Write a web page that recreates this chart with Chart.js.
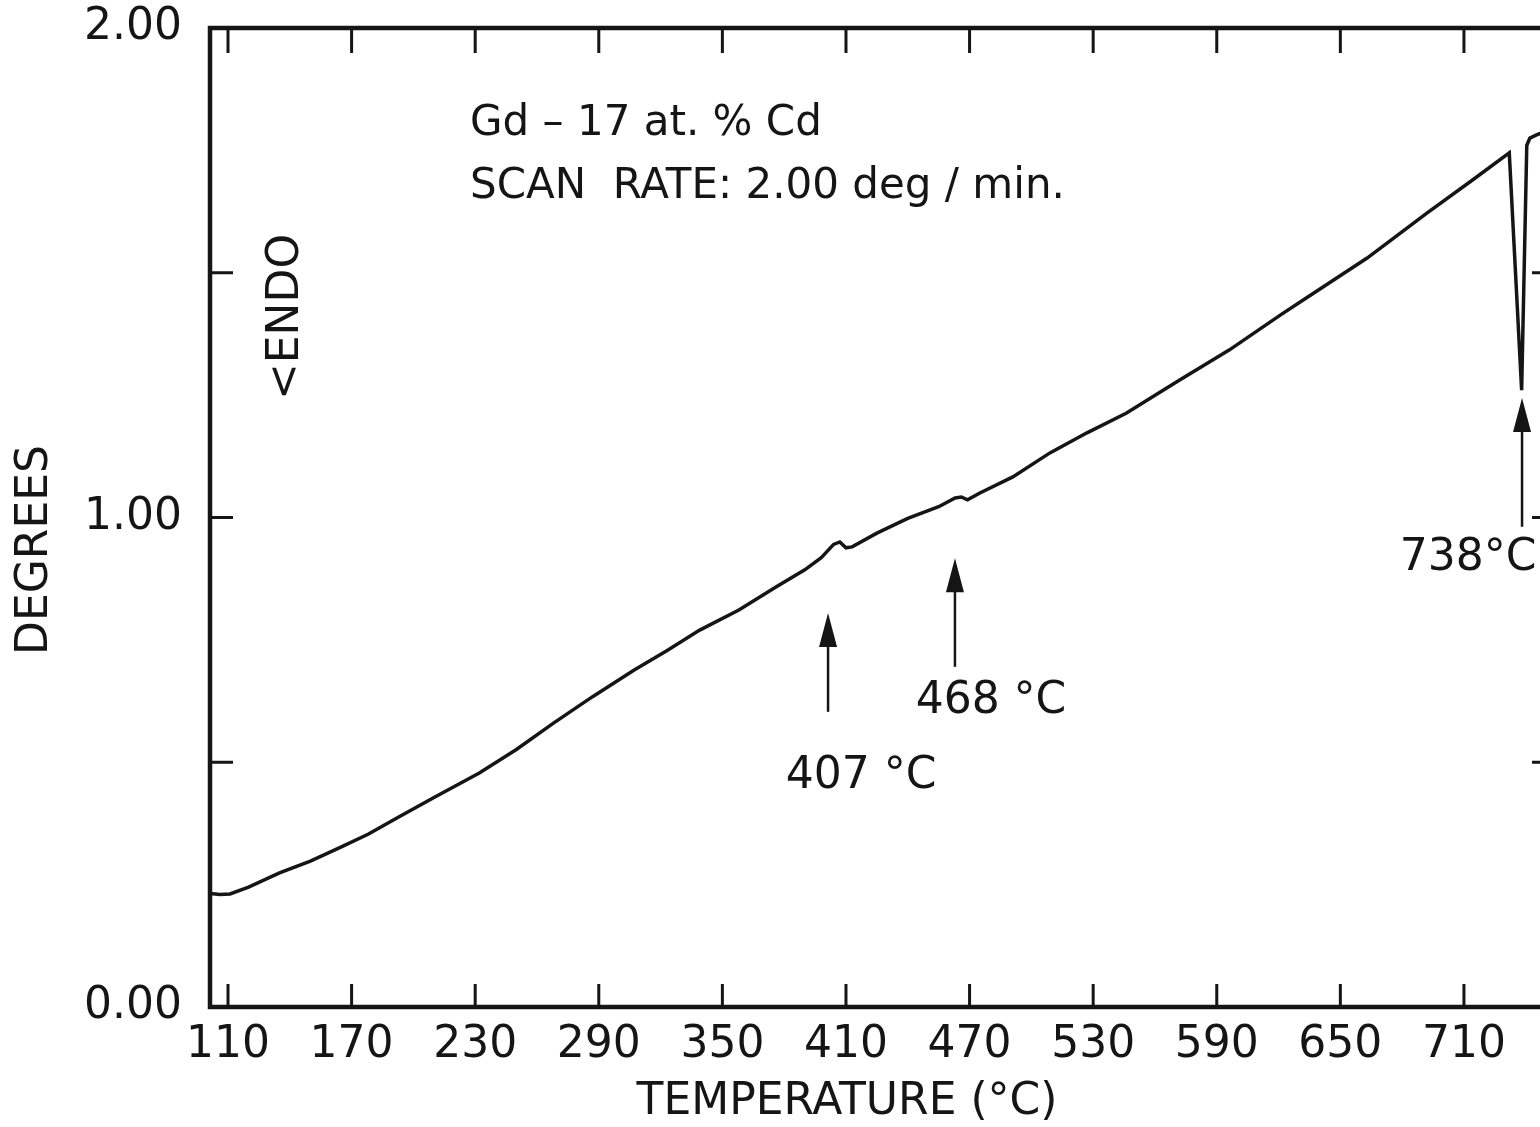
<!DOCTYPE html>
<html>
<head>
<meta charset="utf-8">
<title>DTA trace Gd-17 at.% Cd</title>
<script src="https://cdn.jsdelivr.net/npm/chart.js@4.4.0/dist/chart.umd.min.js"></script>
<style>
html, body { margin: 0; padding: 0; background: #fff; overflow: hidden; }
#wrap { width: 1600px; height: 1127px; }
</style>
</head>
<body>
<div id="wrap"><canvas id="dta-chart" width="1600" height="1127"></canvas></div>
<script>
// DTA TRACE DATA
const temperature = [101.5, 106, 111, 120, 135, 150, 164, 178, 192, 210, 232, 250, 268, 287, 307, 323, 339, 358, 376, 390, 398, 404, 407, 410, 413, 425, 440, 455, 463, 466, 469, 475, 491, 509, 527, 546, 572, 596, 621, 634, 663, 692, 714, 732, 738, 740.5, 742, 745, 750];
const degrees = [0.232, 0.230, 0.231, 0.245, 0.274, 0.298, 0.325, 0.353, 0.386, 0.428, 0.478, 0.526, 0.580, 0.634, 0.688, 0.728, 0.770, 0.811, 0.858, 0.893, 0.918, 0.945, 0.950, 0.938, 0.940, 0.968, 0.998, 1.022, 1.040, 1.042, 1.036, 1.050, 1.083, 1.132, 1.173, 1.213, 1.281, 1.342, 1.414, 1.450, 1.530, 1.622, 1.689, 1.745, 1.260, 1.760, 1.775, 1.781, 1.790];

// AXIS TICKS
const xTicks = [110, 170, 230, 290, 350, 410, 470, 530, 590, 650, 710];
const yTicks = [0, 0.5, 1, 1.5, 2];
const yLabels = ["0.00", "", "1.00", "", "2.00"];

// TEXT ON THE PLOT
const notes = ["Gd \u2013 17 at. % Cd", "SCAN  RATE: 2.00 deg / min."];
const arrowTemps = [401.3, 462.9, 738.2];
const arrowTips = [0.805, 0.917, 1.244];
const arrowEnds = [0.603, 0.695, 0.981];
const arrowLabels = ["407 \u00B0C", "468 \u00B0C", "738\u00B0C"];
const labelTemps = [417.3, 480.4, 712];
const labelDegrees = [0.470, 0.625, 0.917];

const ink = "#151515";
const font = "DejaVu Sans";

const dataTrace = {
    datasets: [
        {
            label: "DTA",
            data: temperature.map((t, i) => ({x: t, y: degrees[i]})),
            borderColor: ink,
            borderWidth: 3.5,
            pointRadius: 0,
            tension: 0,
            fill: false
        }
    ]
};

// frame, inward ticks, notes and arrows
const decorations = {
    id: "decorations",
    afterDraw(chart) {
        const ctx = chart.ctx;
        const xs = chart.scales.x;
        const ys = chart.scales.y;
        const a = chart.chartArea;
        ctx.save();
        ctx.strokeStyle = ink;
        ctx.fillStyle = ink;

        // frame
        ctx.lineWidth = 4.5;
        ctx.strokeRect(a.left, a.top, a.right - a.left, a.bottom - a.top);

        // tick marks pointing inward
        ctx.lineWidth = 3;
        ctx.beginPath();
        xTicks.forEach(v => {
            const px = xs.getPixelForValue(v);
            ctx.moveTo(px, a.bottom);
            ctx.lineTo(px, a.bottom - 23);
            ctx.moveTo(px, a.top);
            ctx.lineTo(px, a.top + 25);
        });
        yTicks.slice(1, -1).forEach(v => {
            const py = ys.getPixelForValue(v);
            ctx.moveTo(a.left, py);
            ctx.lineTo(a.left + 23, py);
            ctx.moveTo(a.right, py);
            ctx.lineTo(a.right - 23, py);
        });
        ctx.stroke();

        // notes
        ctx.font = "42px '" + font + "'";
        ctx.textAlign = "left";
        ctx.textBaseline = "middle";
        ctx.fillText(notes[0], 470, 124);
        ctx.fillText(notes[1], 470, 187);

        // <ENDO and axis titles
        ctx.font = "44px '" + font + "'";
        ctx.save();
        ctx.translate(287, 317);
        ctx.rotate(-Math.PI / 2);
        ctx.textAlign = "center";
        ctx.fillText("<ENDO", 0, 0);
        ctx.restore();

        ctx.save();
        ctx.translate(36, 550);
        ctx.rotate(-Math.PI / 2);
        ctx.textAlign = "center";
        ctx.fillText("DEGREES", 0, 0);
        ctx.restore();
        ctx.textAlign = "center";
        ctx.fillText("TEMPERATURE (\u00B0C)", 847, 1103);

        // arrows
        arrowTemps.forEach((t, i) => {
            const px = xs.getPixelForValue(t);
            const tip = ys.getPixelForValue(arrowTips[i]);
            const end = ys.getPixelForValue(arrowEnds[i]);
            ctx.lineWidth = 2.5;
            ctx.beginPath();
            ctx.moveTo(px, end);
            ctx.lineTo(px, tip + 20);
            ctx.stroke();
            ctx.beginPath();
            ctx.moveTo(px, tip);
            ctx.lineTo(px - 9, tip + 34);
            ctx.lineTo(px + 9, tip + 34);
            ctx.closePath();
            ctx.fill();
            ctx.fillText(arrowLabels[i], xs.getPixelForValue(labelTemps[i]), ys.getPixelForValue(labelDegrees[i]));
        });
        ctx.restore();
    }
};

new Chart("dta-chart", {
    type: "line",
    data: dataTrace,
    plugins: [decorations],
    options: {
        responsive: false,
        animation: false,
        layout: {
            padding: {top: 28, right: 45, bottom: 0, left: 0}
        },
        plugins: {
            legend: {display: false},
            tooltip: {enabled: false}
        },
        scales: {
            x: {
                type: "linear",
                min: 101.26,
                max: 754.2,
                afterBuildTicks: scale => { scale.ticks = xTicks.map(v => ({value: v})); },
                afterFit: scale => { scale.height = 120; scale.paddingLeft = 0; scale.paddingRight = 0; },
                grid: {display: false, drawTicks: false},
                border: {display: false},
                ticks: {
                    color: ink,
                    padding: 12,
                    maxRotation: 0,
                    autoSkip: false,
                    font: {family: font, size: 44},
                    callback: v => String(v)
                }
            },
            y: {
                type: "linear",
                min: 0,
                max: 2,
                afterBuildTicks: scale => { scale.ticks = yTicks.map(v => ({value: v})); },
                afterFit: scale => { scale.width = 210; scale.paddingTop = 0; scale.paddingBottom = 0; },
                grid: {display: false, drawTicks: false},
                border: {display: false},
                ticks: {
                    color: ink,
                    padding: 28,
                    autoSkip: false,
                    font: {family: font, size: 44},
                    callback: (v, i) => yLabels[i]
                }
            }
        }
    }
});
</script>
</body>
</html>
